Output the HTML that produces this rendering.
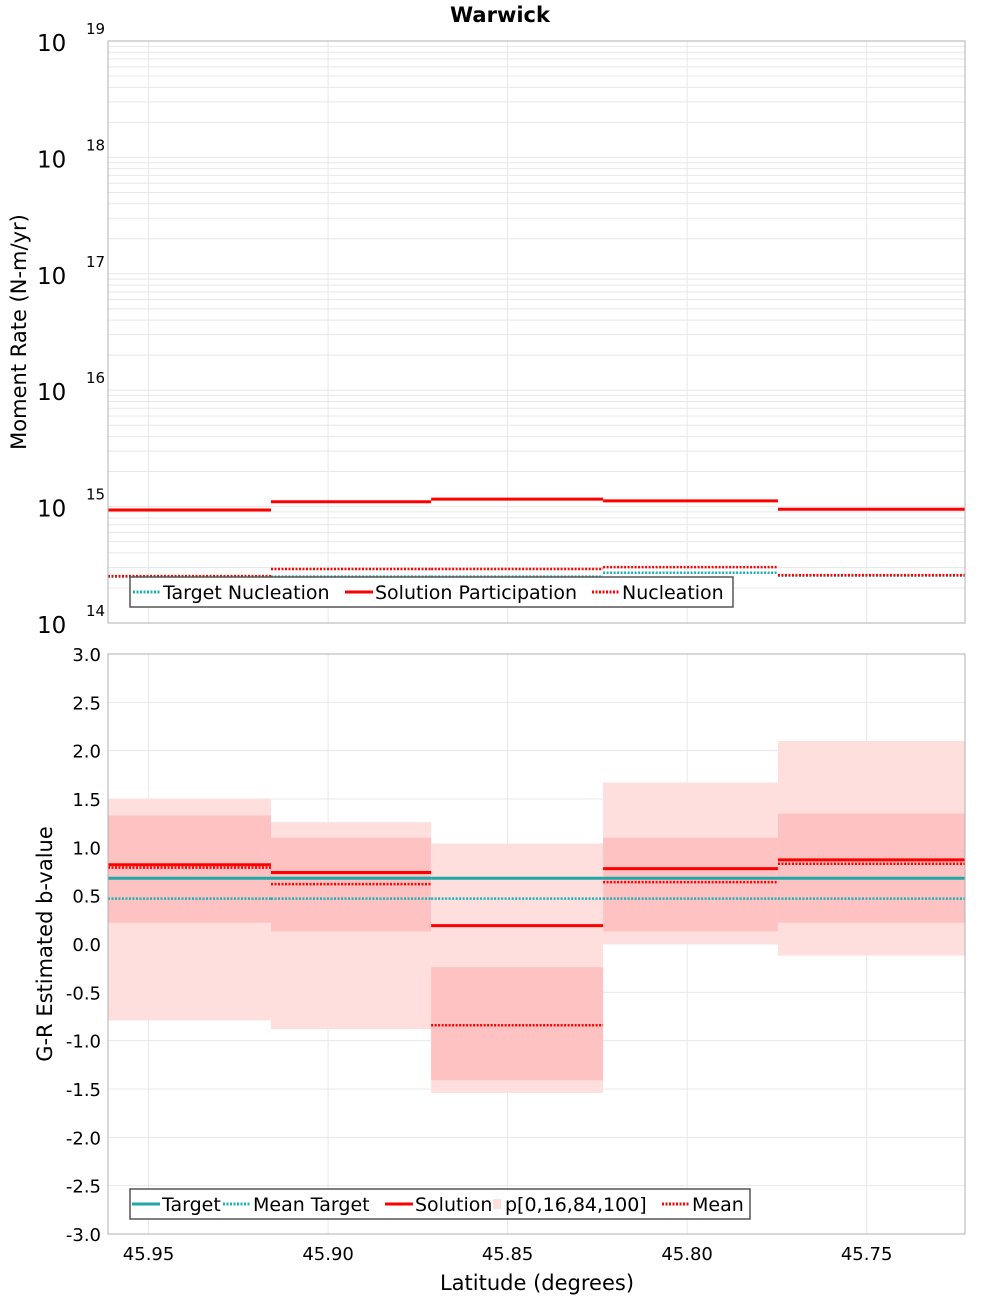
<!DOCTYPE html>
<html><head><meta charset="utf-8"><style>
body{margin:0;background:#fff;}
svg{display:block;font-family:"DejaVu Sans","Liberation Sans",sans-serif;}
</style></head><body>
<svg id="chart" width="1000" height="1300" viewBox="0 0 1000 1300" xmlns="http://www.w3.org/2000/svg">
<text x="500" y="22" text-anchor="middle" font-size="21" font-weight="bold">Warwick</text>
<g id="top"></g>
<g id="bot"></g>
<text x="537" y="1290" text-anchor="middle" font-size="21">Latitude (degrees)</text>
<text transform="translate(26,332) rotate(-90)" text-anchor="middle" font-size="21">Moment Rate (N-m/yr)</text>
<text transform="translate(52,944) rotate(-90)" text-anchor="middle" font-size="21">G-R Estimated b-value</text>
</svg>
<script>
const binEdges=[45.9613,45.9159,45.8713,45.8234,45.7747,45.7226];
const xTicks=[45.95,45.90,45.85,45.80,45.75];
const xTickLabels=["45.95","45.90","45.85","45.80","45.75"];
const topDecades=[14,15,16,17,18,19];
const targetNucleation=[2.5e14,2.5e14,2.5e14,2.7e14,2.55e14];
const solutionParticipation=[9.35e14,1.1e15,1.16e15,1.12e15,9.5e14];
const nucleation=[2.53e14,2.91e14,2.91e14,3.02e14,2.58e14];
const bTicks=[-3,-2.5,-2,-1.5,-1,-0.5,0,0.5,1,1.5,2,2.5,3];
const bTickLabels=["-3.0","-2.5","-2.0","-1.5","-1.0","-0.5","0.0","0.5","1.0","1.5","2.0","2.5","3.0"];
const bTarget=[0.68,0.68,0.68,0.68,0.68];
const bMeanTarget=[0.47,0.47,0.47,0.47,0.47];
const bSolution=[0.82,0.74,0.19,0.78,0.87];
const bMean=[0.79,0.62,-0.84,0.64,0.83];
const bP0=[-0.79,-0.88,-1.54,0.0,-0.12];
const bP16=[0.22,0.13,-1.41,0.13,0.22];
const bP84=[1.33,1.10,-0.24,1.10,1.35];
const bP100=[1.50,1.26,1.04,1.67,2.10];

const NS="http://www.w3.org/2000/svg";
const L=108,R=965;
const xMin=45.9613,xMax=45.7226;
const X=v=>L+(xMin-v)/(xMin-xMax)*(R-L);
const T0=41,T1=623,B0=654,B1=1234;
const YT=v=>T1-(Math.log10(v)-14)/5*(T1-T0);
const YB=v=>B1-(v+3)/6*(B1-B0);
function mk(p,tag,a){const e=document.createElementNS(NS,tag);for(const k in a)e.setAttribute(k,a[k]);p.appendChild(e);return e;}
const topG=document.getElementById('top'),botG=document.getElementById('bot');
const grid='#e8e8e8';
for(let d=14;d<19;d++)for(let m=1;m<10;m++){const y=YT(m*Math.pow(10,d));
 const g=mk(topG,'line',{x1:L,x2:R,y1:y,y2:y,stroke:grid,'stroke-width':1});
 
 }
for(const t of xTicks){const x=X(t);
 const g=mk(topG,'line',{x1:x,x2:x,y1:T0,y2:T1,stroke:grid,'stroke-width':1});
 
 
 const g2=mk(botG,'line',{x1:x,x2:x,y1:B0,y2:B1,stroke:grid,'stroke-width':1});
 
 }
for(const t of bTicks){const y=YB(t);
 const g=mk(botG,'line',{x1:L,x2:R,y1:y,y2:y,stroke:grid,'stroke-width':1});
 
 }
for(const d of topDecades){const y=YT(Math.pow(10,d));
 const t=mk(topG,'text',{x:37,y:y+10,'font-size':23});t.textContent='10';
 
 
 const s=mk(topG,'text',{x:86,y:y-7,'font-size':15});s.textContent=String(d);
 
 }
function steps(p,arr,Y,color,w,dash,name){for(let i=0;i<arr.length;i++){
 const a={x1:X(binEdges[i]),x2:X(binEdges[i+1]),y1:Y(arr[i]),y2:Y(arr[i]),stroke:color,'stroke-width':w};
 if(dash)a['stroke-dasharray']=dash;
 const e=mk(p,'line',a);
 
 }}
steps(topG,targetNucleation,YT,'#1ab2b2',2.5,'2,1.5','target-nucleation-segment');
steps(topG,nucleation,YT,'#ff0000',2.5,'2,1.5','nucleation-segment');
steps(topG,solutionParticipation,YT,'#ff0000',3,null,'solution-participation-segment');
mk(topG,'rect',{x:L,y:T0,width:R-L,height:T1-T0,fill:'none',stroke:'#b0b0b0','stroke-width':1});
for(let i=0;i<5;i++){const x1=X(binEdges[i]),x2=X(binEdges[i+1]);
 const o=mk(botG,'rect',{x:x1,width:x2-x1,y:YB(bP100[i]),height:YB(bP0[i])-YB(bP100[i]),fill:'#ffdede'});
 
 
 const n=mk(botG,'rect',{x:x1,width:x2-x1,y:YB(bP84[i]),height:YB(bP16[i])-YB(bP84[i]),fill:'#ffc2c2'});
 
 }
steps(botG,bMeanTarget,YB,'#1ab2b2',2.5,'2,1.5','mean-target-segment');
steps(botG,bTarget,YB,'#20a8a8',3,null,'target-segment');
steps(botG,bMean,YB,'#ff0000',2.5,'2,1.5','mean-segment');
steps(botG,bSolution,YB,'#ff0000',3,null,'solution-segment');
mk(botG,'rect',{x:L,y:B0,width:R-L,height:B1-B0,fill:'none',stroke:'#b0b0b0','stroke-width':1});
for(let i=0;i<bTicks.length;i++){const t=mk(botG,'text',{x:101,y:YB(bTicks[i])+7,'font-size':18,'text-anchor':'end'});
 t.textContent=bTickLabels[i];
 
 }
for(let i=0;i<xTicks.length;i++){const t=mk(botG,'text',{x:X(xTicks[i]),y:1260,'font-size':18,'text-anchor':'middle'});
 t.textContent=xTickLabels[i];
 
 }
function legend(p,x,y,w,items,name){const g=mk(p,'g',{});
 
 
 mk(g,'rect',{x:x,y:y,width:w,height:30,fill:'#fff',stroke:'#555','stroke-width':1.5});
 for(const it of items){const cy=y+15;
  if(it.box)mk(g,'rect',{x:it.x+3,y:cy-5,width:8,height:10,fill:'#ffdede'});
  else{const a={x1:it.x,x2:it.x+28,y1:cy,y2:cy,stroke:it.c,'stroke-width':3};if(it.d)a['stroke-dasharray']='2,1.5';mk(g,'line',a);}
  const t=mk(g,'text',{x:it.x+(it.box?15:30),y:cy+7,'font-size':19});t.textContent=it.t;}}
legend(topG,130,577,603,[{x:133,c:'#1ab2b2',d:1,t:'Target Nucleation'},{x:345,c:'#ff0000',t:'Solution Participation'},{x:592,c:'#ff0000',d:1,t:'Nucleation'}],'top-legend');
legend(botG,130,1189,620,[{x:132,c:'#20a8a8',t:'Target'},{x:223,c:'#1ab2b2',d:1,t:'Mean Target'},{x:385,c:'#ff0000',t:'Solution'},{x:490,box:1,t:'p[0,16,84,100]'},{x:662,c:'#ff0000',d:1,t:'Mean'}],'bottom-legend');
</script>
</body></html>
